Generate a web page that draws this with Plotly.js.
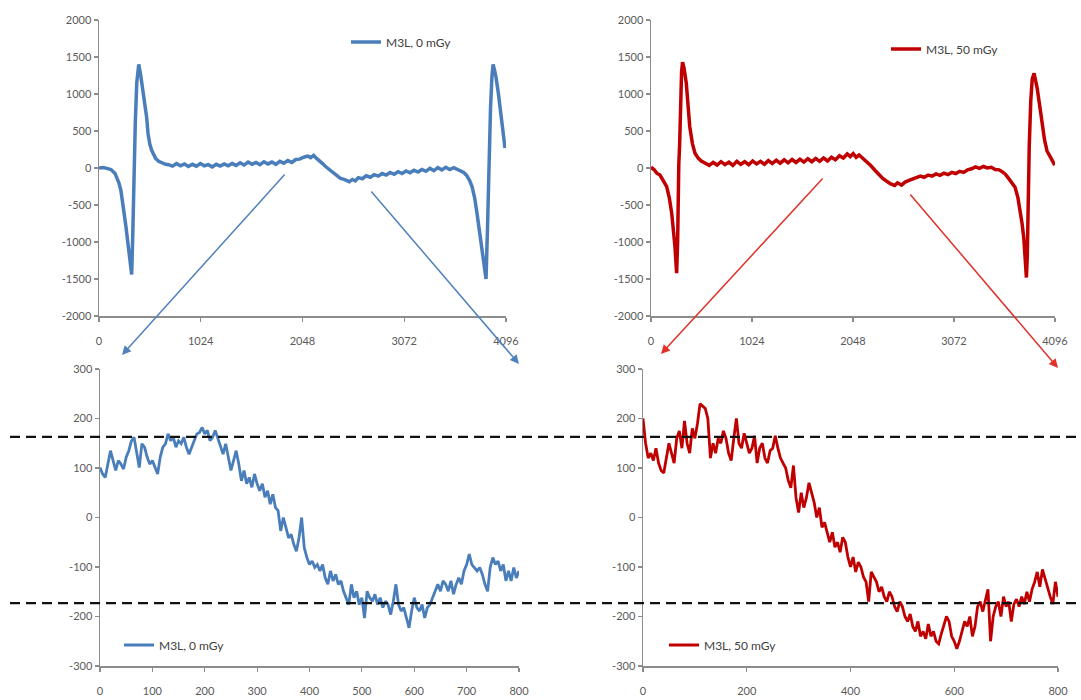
<!DOCTYPE html>
<html>
<head>
<meta charset="utf-8">
<script src="https://cdn.plot.ly/plotly-3.0.1.min.js"></script>
<style>html,body{margin:0;padding:0;background:#fff;}#chart{width:1081px;height:700px;}</style>
</head>
<body>
<div id="chart"></div>
<script>
// ---- Full spectra (channel 0..4096) ----
const fullBlueChannel = [0,40,80,120,160,180,200,220,245,270,295,315,329,340,352,365,380,400,420,440,460,480,493,510,530,545,570,600,635,670,
  700,740,780,820,860,900,940,980,1020,1060,1100,1140,1180,1220,1260,1300,1340,1380,1420,1460,1500,1540,1580,1620,1660,1700,1740,1780,1820,1860,1900,1940,1980,2020,2060,2100,2130,2160,2190,2220,2250,2280,2310,2340,2370,2400,2430,2460,2490,2520,2550,2580,2610,2650,2690,2730,2770,2810,2850,2890,2930,2970,3010,3050,3090,3130,3170,3210,3250,3290,3330,3370,3410,3450,3490,3530,3570,3610,3640,3670,3700,3730,3754,3780,3804,3825,3845,3865,3880,3895,3910,3925,3940,3955,3966,3980,3995,4020,4046,4066,4086];
const fullBlueSignal = [0,5,-5,-20,-70,-135,-200,-300,-520,-780,-1060,-1300,-1440,-900,-100,600,1150,1400,1250,1050,900,680,470,330,240,190,130,90,65,50,
  45,25,60,30,55,20,50,25,60,30,45,15,50,25,55,30,60,35,70,40,80,50,75,45,85,55,80,50,90,65,100,75,115,120,145,160,140,170,130,100,60,20,-10,-50,-80,-110,-140,-150,-170,-185,-155,-175,-130,-145,-105,-125,-90,-110,-75,-95,-60,-85,-50,-75,-40,-65,-30,-55,-20,-45,-5,-35,5,-25,10,-20,5,-25,-35,-60,-100,-170,-250,-400,-610,-800,-1010,-1220,-1380,-1500,-800,100,800,1250,1400,1330,1230,1000,740,500,270];

const fullRedChannel = [0,30,59,91,130,159,185,210,243,260,270,276,282,290,300,310,320,335,358,375,393,420,446,480,510,551,590,630,670,710,750,790,830,870,910,950,990,1030,1070,1110,1150,1190,1230,1270,1310,1350,1390,1430,1470,1510,1550,1590,1630,1670,1710,1750,1790,1830,1870,1910,1950,1990,2020,2050,2080,2110,2150,2190,2230,2270,2310,2350,2390,2430,2471,2500,2540,2576,2610,2650,2690,2730,2770,2810,2850,2890,2930,2970,3010,3050,3090,3130,3170,3210,3250,3290,3330,3370,3410,3450,3490,3530,3560,3590,3620,3650,3691,3720,3742,3762,3780,3795,3806,3815,3825,3835,3850,3865,3884,3900,3915,3937,3960,3990,4015,4042,4065,4084,4096];
const fullRedSignal = [10,-20,-70,-95,-185,-252,-400,-610,-1063,-1420,-1000,-100,60,300,900,1300,1430,1350,1144,850,558,330,200,130,95,63,35,75,40,85,45,80,35,90,50,85,45,95,55,90,50,100,60,105,65,110,70,115,75,120,80,125,85,130,90,135,95,145,110,165,135,190,155,195,145,175,130,80,30,-30,-90,-140,-180,-215,-235,-200,-230,-190,-170,-150,-140,-110,-125,-95,-110,-80,-100,-70,-90,-60,-75,-45,-60,-25,-10,15,-5,20,0,10,-20,-25,-50,-80,-130,-180,-260,-400,-560,-750,-950,-1250,-1480,-1200,-300,300,900,1200,1280,1200,1080,880,650,380,230,150,110,60,70];

// ---- Zoomed window (800 channels) ----
const zoomChannel = [0,5,10,15,20,25,30,35,40,45,50,55,60,65,70,75,80,85,90,95,100,105,110,115,120,125,130,135,140,145,150,155,160,165,170,175,180,185,190,195,200,205,210,215,220,225,230,235,240,245,250,255,260,265,270,275,280,285,290,295,300,305,310,315,320,325,330,335,340,345,350,355,360,365,370,375,380,385,390,395,400,405,410,415,420,425,430,435,440,445,450,455,460,465,470,475,480,485,490,495,500,505,510,515,520,525,530,535,540,545,550,555,560,565,570,575,580,585,590,595,600,605,610,615,620,625,630,635,640,645,650,655,660,665,670,675,680,685,690,695,700,705,710,715,720,725,730,735,740,745,750,755,760,765,770,775,780,785,790,795,800];
const zoomBlueSignal = [101,88,81,108,135,115,95,115,108,98,122,135,155,162,135,101,149,142,122,108,115,101,88,122,142,149,169,155,162,142,155,149,162,142,128,142,155,169,172,182,169,176,155,162,176,159,142,128,149,122,95,115,135,108,74,95,68,81,61,88,68,54,68,41,54,27,47,20,14,-27,0,-20,-41,-34,-54,-68,-41,0,-61,-81,-95,-88,-101,-95,-108,-95,-122,-135,-108,-128,-115,-135,-128,-149,-162,-176,-135,-162,-149,-176,-162,-203,-149,-162,-169,-155,-176,-162,-182,-169,-176,-196,-169,-135,-176,-189,-182,-203,-223,-189,-162,-182,-189,-176,-203,-182,-176,-162,-149,-135,-149,-128,-135,-149,-128,-155,-135,-122,-135,-108,-95,-74,-95,-101,-108,-101,-115,-135,-149,-101,-81,-95,-88,-108,-95,-128,-108,-128,-101,-122,-108];
const zoomRedSignal = [200,150,120,130,115,140,110,95,90,120,150,130,110,160,175,140,195,150,130,180,160,190,230,225,220,200,120,150,130,160,150,175,160,130,115,160,200,150,140,170,150,130,140,165,110,140,150,120,110,135,140,165,140,120,110,100,75,60,105,40,10,50,20,40,70,50,30,0,20,-20,-10,-30,-50,-30,-60,-50,-70,-40,-50,-80,-100,-80,-110,-90,-100,-120,-130,-170,-110,-120,-130,-150,-140,-160,-170,-150,-160,-180,-190,-170,-180,-200,-210,-195,-220,-230,-210,-240,-230,-245,-215,-240,-230,-250,-255,-235,-215,-200,-210,-240,-250,-265,-250,-230,-210,-220,-200,-240,-220,-180,-170,-190,-170,-145,-250,-200,-180,-170,-200,-160,-180,-170,-210,-175,-165,-180,-160,-175,-150,-170,-145,-130,-110,-140,-105,-125,-140,-160,-175,-130,-160];

// reference levels (dashed)
const refLevels = [163, -173];

const fullXTicks = [0,1024,2048,3072,4096];
const fullYTicks = [-2000,-1500,-1000,-500,0,500,1000,1500,2000];
const fullYTickText = ['-2000','-1500','-1000','-500','0','500','1000','1500','2000'];
const zoomYTicks = [-300,-200,-100,0,100,200,300];
const zoomYTickText = ['-300','-200','-100','0','100','200','300'];
const seriesNames = ['M3L, 0 mGy', 'M3L, 50 mGy'];

const BLUE = '#4a7ebb', RED = '#c00000', RED_ARROW = '#e2302a', BLUE_ARROW = '#4f81bd';
const W = 1081, H = 700;
const px = v => v / W, py = v => 1 - v / H;

const tickFont = {family: 'Lato, "Open Sans", sans-serif', size: 11, color: '#5a5a5a'};
const legFont = {family: 'Lato, "Open Sans", sans-serif', size: 12, color: '#404040'};

function axisBase(extra) {
  return Object.assign({
    showline: true, linecolor: '#8c8c8c', linewidth: 1.5,
    ticks: 'outside', ticklen: 4, tickwidth: 1.2, tickcolor: '#8c8c8c',
    showgrid: false, zeroline: false, tickfont: tickFont, fixedrange: true
  }, extra);
}

const traces = [
  {x: fullBlueChannel, y: fullBlueSignal, type: 'scatter', mode: 'lines', name: seriesNames[0],
   line: {color: BLUE, width: 3.5}, xaxis: 'x', yaxis: 'y', legend: 'legend'},
  {x: fullRedChannel, y: fullRedSignal, type: 'scatter', mode: 'lines', name: seriesNames[1],
   line: {color: RED, width: 3.5}, xaxis: 'x2', yaxis: 'y2', legend: 'legend2'},
  {x: zoomChannel, y: zoomBlueSignal, type: 'scatter', mode: 'lines', name: seriesNames[0],
   line: {color: BLUE, width: 2.8}, xaxis: 'x3', yaxis: 'y3', legend: 'legend3'},
  {x: zoomChannel, y: zoomRedSignal, type: 'scatter', mode: 'lines', name: seriesNames[1],
   line: {color: RED, width: 2.8}, xaxis: 'x4', yaxis: 'y4', legend: 'legend4'}
];

function arrow(hx, hy, tx, ty, color) {
  return {x: px(hx), y: py(hy), xref: 'paper', yref: 'paper', text: '', showarrow: true,
    ax: tx - hx, ay: ty - hy, arrowhead: 2, arrowsize: 1.2, arrowwidth: 1.5, arrowcolor: color};
}

function leg(x, y) {
  return {x: x, y: y, xanchor: 'left', yanchor: 'middle', bgcolor: 'rgba(0,0,0,0)',
    font: legFont, borderwidth: 0};
}

const fullY = {range: [-2000, 2000], tickvals: fullYTicks, ticktext: fullYTickText};
const zoomY = {range: [-300, 300], tickvals: zoomYTicks, ticktext: zoomYTickText};

const layout = {
  width: W, height: H, margin: {l: 0, r: 0, t: 0, b: 0},
  paper_bgcolor: '#fff', plot_bgcolor: 'rgba(0,0,0,0)',
  showlegend: true,
  xaxis: axisBase({domain: [px(99), px(506)], range: [0, 4096], tickvals: fullXTicks, anchor: 'y', ticklabelstandoff: 10}),
  yaxis: axisBase(Object.assign({domain: [py(316), py(20)], anchor: 'x'}, fullY)),
  xaxis2: axisBase({domain: [px(651), px(1055)], range: [0, 4096], tickvals: fullXTicks, anchor: 'y2', ticklabelstandoff: 10}),
  yaxis2: axisBase(Object.assign({domain: [py(316), py(20)], anchor: 'x2'}, fullY)),
  xaxis3: axisBase({domain: [px(100), px(519)], range: [0, 800], dtick: 100, anchor: 'y3', ticklabelstandoff: 10}),
  yaxis3: axisBase(Object.assign({domain: [py(666), py(369)], anchor: 'x3'}, zoomY)),
  xaxis4: axisBase({domain: [px(643), px(1058)], range: [0, 800], dtick: 200, anchor: 'y4', ticklabelstandoff: 10}),
  yaxis4: axisBase(Object.assign({domain: [py(666), py(369)], anchor: 'x4'}, zoomY)),
  legend: leg(px(346), py(42)),
  legend2: leg(px(886), py(49)),
  legend3: leg(px(119), py(645)),
  legend4: leg(px(664), py(645)),
  shapes: refLevels.map(v => ({type: 'line', xref: 'paper', yref: 'y3', x0: px(10), x1: 1, y0: v, y1: v,
    line: {color: '#111', width: 2.2, dash: '10px,6px'}})),
  annotations: [
    arrow(122, 355, 286, 173, BLUE_ARROW),
    arrow(519, 364, 370, 190, BLUE_ARROW),
    arrow(661, 354, 824, 177, RED_ARROW),
    arrow(1058, 368, 909, 193, RED_ARROW)
  ]
};

Plotly.newPlot('chart', traces, layout, {displayModeBar: false, staticPlot: true});
</script>
</body>
</html>
